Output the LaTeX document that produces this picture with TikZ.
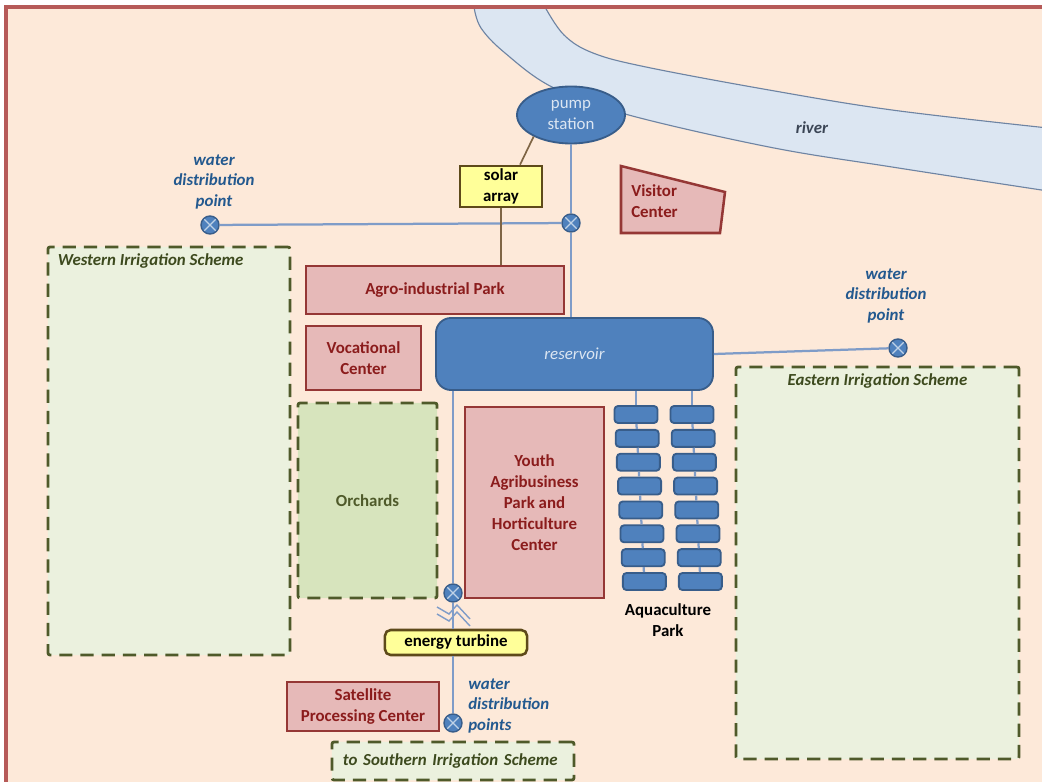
\documentclass[tikz,border=0pt]{standalone}
\usepackage{fontspec}
\setmainfont{Carlito}
\usepackage{tikz}
\usetikzlibrary{shapes.geometric}
\usetikzlibrary{calc}
\usetikzlibrary{positioning}

\definecolor{peach}{HTML}{FDE9D9}
\definecolor{framered}{HTML}{B65A58}
\definecolor{riverfill}{HTML}{DCE6F2}
\definecolor{riverline}{HTML}{6E84A3}
\definecolor{rivertext}{HTML}{3B4555}
\definecolor{waterblue}{HTML}{4F81BD}
\definecolor{waterline}{HTML}{385D8A}
\definecolor{pipeblue}{HTML}{7F9CC8}
\definecolor{pinkfill}{HTML}{E6B9B8}
\definecolor{pinkline}{HTML}{953735}
\definecolor{parktext}{HTML}{8B1C1C}
\definecolor{sunfill}{HTML}{FFFF99}
\definecolor{sunline}{HTML}{5E4A1A}
\definecolor{wireline}{HTML}{7F6545}
\definecolor{fieldfill}{HTML}{EBF1DE}
\definecolor{orchardfill}{HTML}{D7E4BD}
\definecolor{fieldline}{HTML}{4F5A2A}
\definecolor{fieldtext}{HTML}{3D4A1E}
\definecolor{labelblue}{HTML}{23598F}

\newcommand{\mapfont}{\fontsize{12}{14.9}\selectfont}

\tikzset{every node/.style={font=\mapfont, inner sep=0pt}}
\tikzset{park/.style={draw=pinkline, fill=pinkfill, line width=1.8pt, text=parktext, font=\mapfont\bfseries, align=center}}
\tikzset{sun/.style={draw=sunline, fill=sunfill, line width=1.8pt, font=\mapfont\bfseries, align=center}}
\tikzset{water/.style={draw=waterline, fill=waterblue, line width=1.3pt, text=riverfill, align=center}}
\tikzset{pond/.style={water, rounded corners=2.5pt, minimum width=1.075cm, minimum height=0.425cm}}
\tikzset{valve/.style={circle, draw=waterline, fill=waterblue, line width=1pt, minimum size=0.45cm,
  path picture={\draw[riverfill!80!waterblue, line width=0.9pt]
    (path picture bounding box.north west) -- (path picture bounding box.south east)
    (path picture bounding box.north east) -- (path picture bounding box.south west);}}}
\tikzset{field/.style={draw=fieldline, fill=fieldfill, line width=2pt, dash pattern=on 0.33cm off 0.2cm, rounded corners=1.5pt}}
\tikzset{fieldname/.style={text=fieldtext, font=\mapfont\bfseries\itshape}}
\tikzset{waterlabel/.style={text=labelblue, font=\mapfont\bfseries\itshape, align=center}}
\tikzset{pipe/.style={draw=pipeblue, line width=1.6pt}}
\tikzset{wire/.style={draw=wireline, line width=1.2pt}}

\begin{document}
\begin{tikzpicture}[x=0.025cm, y=-0.025cm]
	\useasboundingbox (0,0) rectangle (1042,782);
	\fill[peach] (6,7) rectangle (1042,782);
	% river
	\filldraw[fill=riverfill, draw=riverline, line width=0.8pt]
		plot[smooth, tension=0.6] coordinates {(474,7) (481,28) (505,53) (552,87) (625,114) (769,147) (892,167) (1048,191)}
		-- plot[smooth, tension=0.6] coordinates {(1048,128) (892,110) (769,90) (646,67) (593,53) (564,35) (545,7)} -- cycle;
	\draw[framered, line width=2.2pt] (1050,7) -- (6,7) -- (6,790);
	\node[text=rivertext, font=\mapfont\bfseries\itshape] (rivername) at (812,128) {river};

	% irrigation schemes
	\node[field, minimum width=6.05cm, minimum height=10.2cm,
		label={[fieldname, anchor=north west, xshift=0.275cm, yshift=-0.2cm]north west:Western Irrigation Scheme}] (west) at (169,451) {};
	\node[field, minimum width=7.075cm, minimum height=9.8cm,
		label={[fieldname, anchor=north, yshift=-0.2cm]north:Eastern Irrigation Scheme}] (east) at (877.5,563) {};
	\node[field, fieldname, minimum height=0.95cm, text width=5.5cm, inner xsep=0.275cm, align=left] (south) at (453,761) {to Southern Irrigation Scheme};
	\node[field, fill=orchardfill, text=fieldline, font=\mapfont\bfseries, minimum width=3.475cm, minimum height=4.875cm] (orchards) at (367.5,500.5) {Orchards};

	% water works
	\node[water, ellipse, minimum width=2.7cm, minimum height=1.425cm] (pump) at (571,115) {pump\\station};
	\node[water, font=\mapfont\itshape, rounded corners=0.375cm, minimum width=6.925cm, minimum height=1.8cm] (reservoir) at (574.5,354) {reservoir};
	\node[sun, minimum width=2.05cm, minimum height=1.025cm] (solar) at (501,186.5) {solar\\array};
	\node[sun, rounded corners=4pt, minimum width=3.55cm, minimum height=0.625cm] (turbine) at (456,642.5) {energy turbine};

	% parks and centers
	\node[park, minimum width=6.45cm, minimum height=1.2cm] (agro) at (435,290) {Agro-industrial Park};
	\node[park, minimum width=2.875cm, minimum height=1.6cm] (vocational) at (363.5,358) {Vocational\\Center};
	\node[park, minimum width=3.475cm, minimum height=4.775cm] (youth) at (534.5,502.5) {Youth\\Agribusiness\\Park and\\Horticulture\\Center};
	\node[park, minimum width=3.8cm, minimum height=1.225cm] (satellite) at (363,706.5) {Satellite\\Processing Center};
	\filldraw[draw=pinkline, fill=pinkfill, line width=1.8pt] (621,166) -- (725,192) -- (720,233) -- (621,233) -- cycle;
	\node[text=parktext, font=\mapfont\bfseries, align=left, anchor=west] (visitor) at (631,201) {Visitor\\Center};

	% aquaculture ponds
	\foreach \i in {1,...,8} {
		\node[pond] (a\i) at ({636+1.2*(\i-1)}, {414.5+23.86*(\i-1)}) {};
		\node[pond] (b\i) at ({692+1.2*(\i-1)}, {414.5+23.86*(\i-1)}) {};
	}
	\path[pipe] (a1 |- reservoir.south) edge (a1);
	\path[pipe] (b1 |- reservoir.south) edge (b1);
	\foreach \i [remember=\i as \last (initially 1)] in {2,...,8} {
		\path[pipe] (a\last) edge (a\i);
		\path[pipe] (b\last) edge (b\i);
	}
	\node[font=\mapfont\bfseries, align=center] (aqua) at (668,620) {Aquaculture\\Park};

	% valves and distribution points
	\node[valve] (v1) at (210,225) {};
	\node[valve] (v2) at (571,223) {};
	\node[valve] (v3) at (898,348) {};
	\node[valve] (v4) at (453,593) {};
	\node[valve] (v5) at (453,723) {};
	\node[waterlabel] (w1) at (214,182) {water\\distribution\\point};
	\node[waterlabel] (w3) at (886,296) {water\\distribution\\point};
	\node[waterlabel, align=left, anchor=west] (w5) at (468,706) {water\\distribution\\points};

	% pipes
	\path[pipe] (pump) edge (v2);
	\path[pipe] (v2) edge (v2 |- reservoir.north);
	\path[pipe] (v1) edge (v2);
	\path[pipe] (reservoir.east) edge (v3);
	\path[pipe] (v4 |- reservoir.south) edge (v4);
	\path[pipe] (v4) edge (v4 |- turbine.north);
	\path[pipe] (v4 |- turbine.south) edge (v5);
	\draw[pipe, line width=1pt] ([shift={(-16,14)}]v4.center) -- ++(12,7) -- ++(8,-9) -- ++(13,14);
	\draw[pipe, line width=1pt] ([shift={(-16,21)}]v4.center) -- ++(12,7) -- ++(8,-9) -- ++(13,14);

	% power lines
	\path[wire] (pump.210) edge ($(solar.north)!0.45!(solar.north east)$);
	\path[wire] (solar.south) edge (solar.south |- agro.north);
	\path[wire] ($(satellite.north)+(41,0)$) edge ($(satellite.north)+(41,0)$ |- turbine.south);
\end{tikzpicture}
\end{document}
